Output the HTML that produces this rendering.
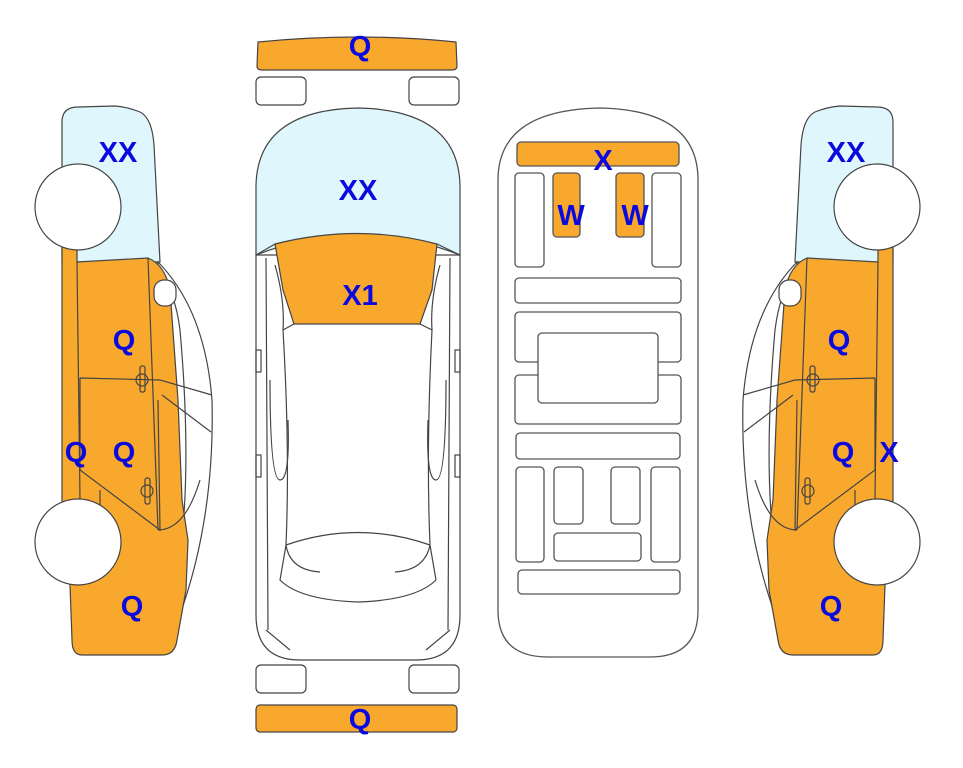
<!DOCTYPE html>
<html><head><style>html,body{margin:0;padding:0;background:#fff}svg{display:block}
text{font-family:"Liberation Sans",Arial,sans-serif;font-weight:bold;fill:#0a0ae0;font-size:29px;text-anchor:middle}</style></head>
<body>
<svg width="963" height="768" viewBox="0 0 963 768" xmlns="http://www.w3.org/2000/svg">
<defs>
<g id="side" stroke="#444" stroke-width="1.2">
  <path d="M62,255 L62,122 Q62,107 78,107 L115,106 Q128,107 140,112 Q152,118 154,145 L160,262 L62,262 Z" fill="#dff6fd"/>
  <path d="M158,262 Q205,310 212,400 Q215,520 178,620 L172,600 Q195,500 180,330 Q175,290 158,270 Z" fill="#fff"/>
  <path d="M62,240 L77,240 L77,262 L148,258 Q165,265 170,290 L178,400 L182,500 L188,540 L186,590 L177,640 Q175,655 162,655 L82,655 Q72,655 72,640 L70,585 L62,500 Z" fill="#f9a82e"/>
  <path d="M77,262 L80,500 M80,378 L160,380 M80,378 L80,470 L160,530 L158,400 M148,258 L158,530 M100,490 L100,505" fill="none"/>
  <path d="M160,380 L212,395 M162,395 L211,432 M158,530 Q185,530 200,480" fill="none"/>
  <rect x="154" y="280" width="22" height="26" rx="10" fill="#fff"/>
  <rect x="140" y="366" width="5" height="26" rx="2" fill="none"/>
  <circle cx="142" cy="380" r="6" fill="none"/>
  <rect x="145" y="478" width="5" height="26" rx="2" fill="none"/>
  <circle cx="147" cy="491" r="6" fill="none"/>
  <circle cx="78" cy="207" r="43" fill="#fff"/>
  <circle cx="78" cy="542" r="43" fill="#fff"/>
</g>
</defs>
<use href="#side"/>
<use href="#side" transform="translate(955,0) scale(-1,1)"/>

<!-- top view -->
<g stroke="#444" stroke-width="1.2">
  <path d="M258,42 Q358,32 456,42 L457,66 Q457,70 452,70 L262,70 Q257,70 257,66 Z" fill="#f9a82e"/>
  <rect x="256" y="77" width="50" height="28" rx="5" fill="#fff"/>
  <rect x="409" y="77" width="50" height="28" rx="5" fill="#fff"/>
  <rect x="256" y="665" width="50" height="28" rx="5" fill="#fff"/>
  <rect x="409" y="665" width="50" height="28" rx="5" fill="#fff"/>
  <rect x="256" y="705" width="201" height="27" rx="4" fill="#f9a82e"/>
  <path d="M256,255 L256,615 Q256,660 300,660 L416,660 Q460,660 460,615 L460,255 Z" fill="#fff"/>
  <path d="M256,255 L256,185 Q258,110 358,108 Q458,110 460,185 L460,255 Q358,215 256,255 Z" fill="#dff6fd"/>
  <path d="M275,244 Q358,223 437,244 L432,290 L420,324 L294,324 L283,290 Z" fill="#f9a82e"/>
  <path d="M294,324 L283,330 Q290,450 286,545 Q290,570 320,572 M420,324 L432,330 Q426,450 430,545 Q425,570 395,572 M286,545 Q358,520 430,545 M286,545 L280,580 Q300,600 358,602 Q416,600 436,580 L430,545" fill="none"/>
  <path d="M256,255 L275,244 M460,255 L437,244 M266,258 L268,630 M450,258 L448,630 M275,265 Q285,300 283,330 M440,265 Q430,300 432,330 M270,380 Q270,480 280,480 Q290,480 288,420 M446,380 Q446,480 436,480 Q426,480 428,420 M266,630 L290,650 M450,630 L426,650" fill="none"/>
  <rect x="256" y="350" width="5" height="22" fill="none"/><rect x="455" y="350" width="5" height="22" fill="none"/>
  <rect x="256" y="455" width="5" height="22" fill="none"/><rect x="455" y="455" width="5" height="22" fill="none"/>
</g>

<!-- floor view -->
<g stroke="#555" stroke-width="1.3" fill="#fff">
  <path d="M498,180 Q498,110 600,108 Q698,110 698,180 L698,610 Q698,657 650,657 L548,657 Q498,657 498,610 Z"/>
  <rect x="517" y="142" width="162" height="24" rx="4" fill="#f9a82e"/>
  <rect x="553" y="173" width="27" height="64" rx="4" fill="#f9a82e"/>
  <rect x="616" y="173" width="28" height="64" rx="4" fill="#f9a82e"/>
  <rect x="515" y="173" width="29" height="94" rx="4"/>
  <rect x="652" y="173" width="29" height="94" rx="4"/>
  <rect x="515" y="278" width="166" height="25" rx="4"/>
  <rect x="515" y="312" width="166" height="50" rx="4"/>
  <rect x="515" y="375" width="166" height="49" rx="4"/>
  <rect x="538" y="333" width="120" height="70" rx="4"/>
  <rect x="516" y="433" width="164" height="26" rx="4"/>
  <rect x="516" y="467" width="28" height="95" rx="4"/>
  <rect x="554" y="467" width="29" height="57" rx="4"/>
  <rect x="611" y="467" width="29" height="57" rx="4"/>
  <rect x="651" y="467" width="29" height="95" rx="4"/>
  <rect x="554" y="533" width="87" height="28" rx="4"/>
  <rect x="518" y="570" width="162" height="24" rx="4"/>
</g>

<text x="118" y="162">XX</text>
<text x="124" y="350">Q</text>
<text x="76" y="462">Q</text>
<text x="124" y="462">Q</text>
<text x="132" y="616">Q</text>
<text x="846" y="162">XX</text>
<text x="839" y="350">Q</text>
<text x="843" y="462">Q</text>
<text x="889" y="462">X</text>
<text x="831" y="616">Q</text>
<text x="360" y="56">Q</text>
<text x="358" y="200">XX</text>
<text x="360" y="305">X1</text>
<text x="360" y="729">Q</text>
<text x="603" y="170">X</text>
<text x="571" y="225">W</text>
<text x="635" y="225">W</text>
</svg>
</body></html>
